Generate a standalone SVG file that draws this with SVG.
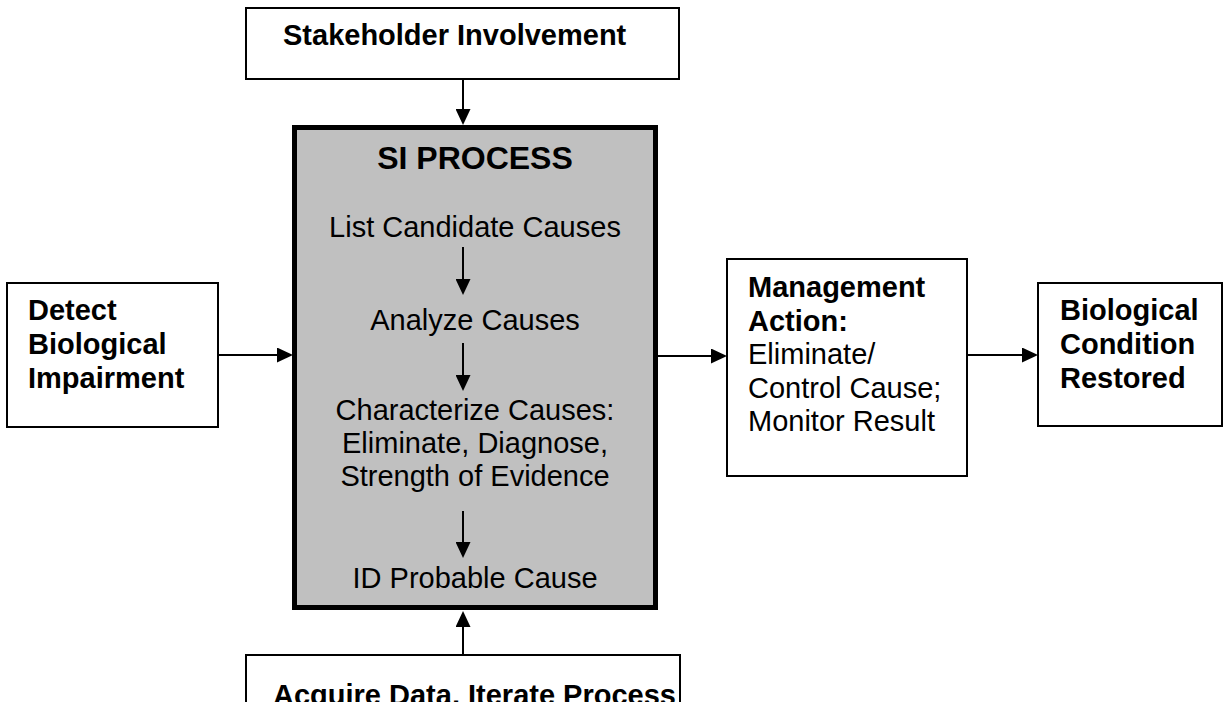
<svg xmlns="http://www.w3.org/2000/svg" width="1228" height="702" viewBox="0 0 1228 702">
<style>
.box{fill:#fff;stroke:#000;stroke-width:2}
.main{fill:#c0c0c0;stroke:#000;stroke-width:5}
.b{font-family:"Liberation Sans",Arial,sans-serif;font-size:29px;font-weight:bold;fill:#000}
.r{font-family:"Liberation Sans",Arial,sans-serif;font-size:29px;fill:#000}
.t{font-family:"Liberation Sans",Arial,sans-serif;font-size:32px;font-weight:bold;fill:#000}
.c{stroke:#000;stroke-width:2;fill:none;marker-end:url(#ah)}
</style>
<defs>
<marker id="ah" markerUnits="userSpaceOnUse" markerWidth="16" markerHeight="15" refX="0" refY="7.5" orient="auto">
<path d="M0,0 L16,7.5 L0,15 z" fill="#000"/>
</marker>
</defs>
<rect width="1228" height="702" fill="#fff"/>
<g id="stakeholder">
<rect class="box" x="246" y="8" width="433" height="71"/>
<text class="b" x="283" y="45">Stakeholder Involvement</text>
</g>
<g id="si-process">
<rect class="main" x="294.5" y="127.5" width="361" height="480"/>
<text class="t" x="475" y="169" text-anchor="middle">SI PROCESS</text>
<text class="r" x="475" y="237" text-anchor="middle">List Candidate Causes</text>
<text class="r" x="475" y="330" text-anchor="middle">Analyze Causes</text>
<text class="r" x="475" y="420" text-anchor="middle">Characterize Causes:</text>
<text class="r" x="475" y="453" text-anchor="middle">Eliminate, Diagnose,</text>
<text class="r" x="475" y="486" text-anchor="middle">Strength of Evidence</text>
<text class="r" x="475" y="588" text-anchor="middle">ID Probable Cause</text>
</g>
<g id="detect">
<rect class="box" x="7" y="283" width="211" height="144"/>
<text class="b" x="28" y="320">Detect</text>
<text class="b" x="28" y="354">Biological</text>
<text class="b" x="28" y="388">Impairment</text>
</g>
<g id="management">
<rect class="box" x="727" y="259" width="240" height="217"/>
<text class="b" x="748" y="297">Management</text>
<text class="b" x="748" y="330.5">Action:</text>
<text class="r" x="748" y="364">Eliminate/</text>
<text class="r" x="748" y="397.5">Control Cause;</text>
<text class="r" x="748" y="431">Monitor Result</text>
</g>
<g id="restored">
<rect class="box" x="1038" y="283" width="184" height="143"/>
<text class="b" x="1060" y="320">Biological</text>
<text class="b" x="1060" y="354">Condition</text>
<text class="b" x="1060" y="388">Restored</text>
</g>
<g id="acquire">
<rect class="box" x="246" y="655" width="434" height="80"/>
<text class="b" x="273" y="705">Acquire Data, Iterate Process</text>
</g>
<g id="connectors">
<line class="c" x1="463" y1="79" x2="463" y2="109"/>
<line class="c" x1="463" y1="655" x2="463" y2="627"/>
<line class="c" x1="219" y1="355" x2="277" y2="355"/>
<line class="c" x1="658" y1="356" x2="711" y2="356"/>
<line class="c" x1="968" y1="355" x2="1022" y2="355"/>
<line class="c" x1="463" y1="247" x2="463" y2="279"/>
<line class="c" x1="463" y1="343" x2="463" y2="375"/>
<line class="c" x1="463" y1="511" x2="463" y2="542"/>
</g>
</svg>
